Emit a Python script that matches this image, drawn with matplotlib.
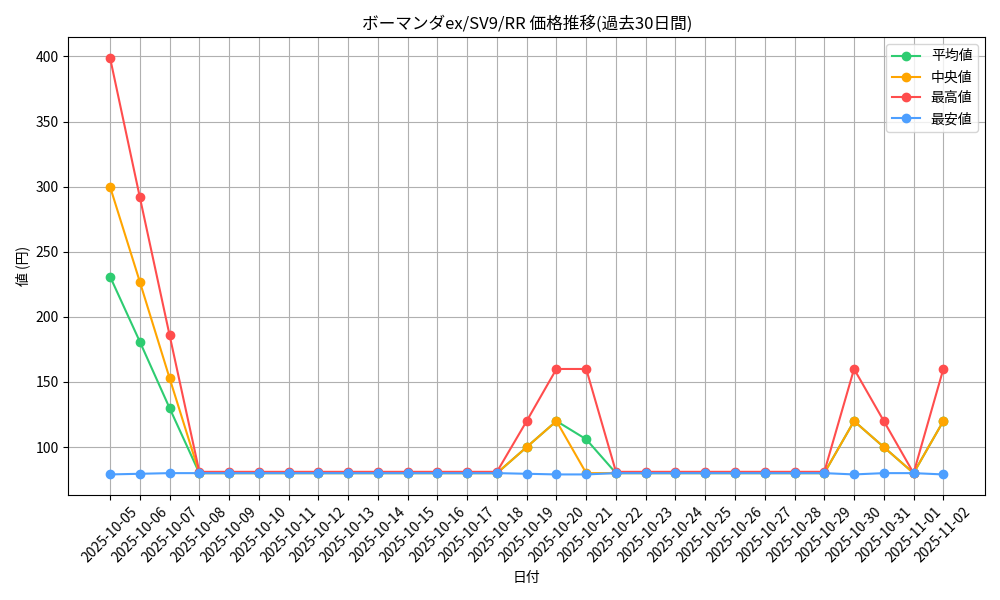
import matplotlib
matplotlib.use("Agg")
import matplotlib.pyplot as plt
import pandas as pd

plt.rcParams['font.family'] = ['Noto Sans CJK JP', 'DejaVu Sans']

dates = [d.strftime('%Y-%m-%d') for d in pd.date_range('2025-10-05', '2025-11-02')]
n = len(dates)
avg = [231, 181, 130] + [80]*11 + [100, 120, 106] + [80]*8 + [120, 100, 80, 120]
med = [300, 227, 153] + [80]*11 + [100, 120, 80] + [80]*8 + [120, 100, 80, 120]
mx = [399, 292, 186] + [81]*11 + [120, 160, 160] + [81]*8 + [160, 120, 80, 160]
mn = [79, 79.5, 80] + [80]*11 + [79.5, 79, 79] + [80]*8 + [79, 80, 80, 79]

fig, ax = plt.subplots(figsize=(10, 6), dpi=100)
ax.plot(dates, avg, marker='o', color='#2ecc71', label='平均値')
ax.plot(dates, med, marker='o', color='#FFA500', label='中央値')
ax.plot(dates, mx, marker='o', color='#ff4d4d', label='最高値')
ax.plot(dates, mn, marker='o', color='#4d9fff', label='最安値')
ax.set_title('ボーマンダex/SV9/RR 価格推移(過去30日間)')
ax.set_xlabel('日付')
ax.set_ylabel('値 (円)')
ax.grid(True)
ax.legend(loc='upper right')
plt.xticks(rotation=45)
plt.tight_layout()
fig.savefig('out.png')
